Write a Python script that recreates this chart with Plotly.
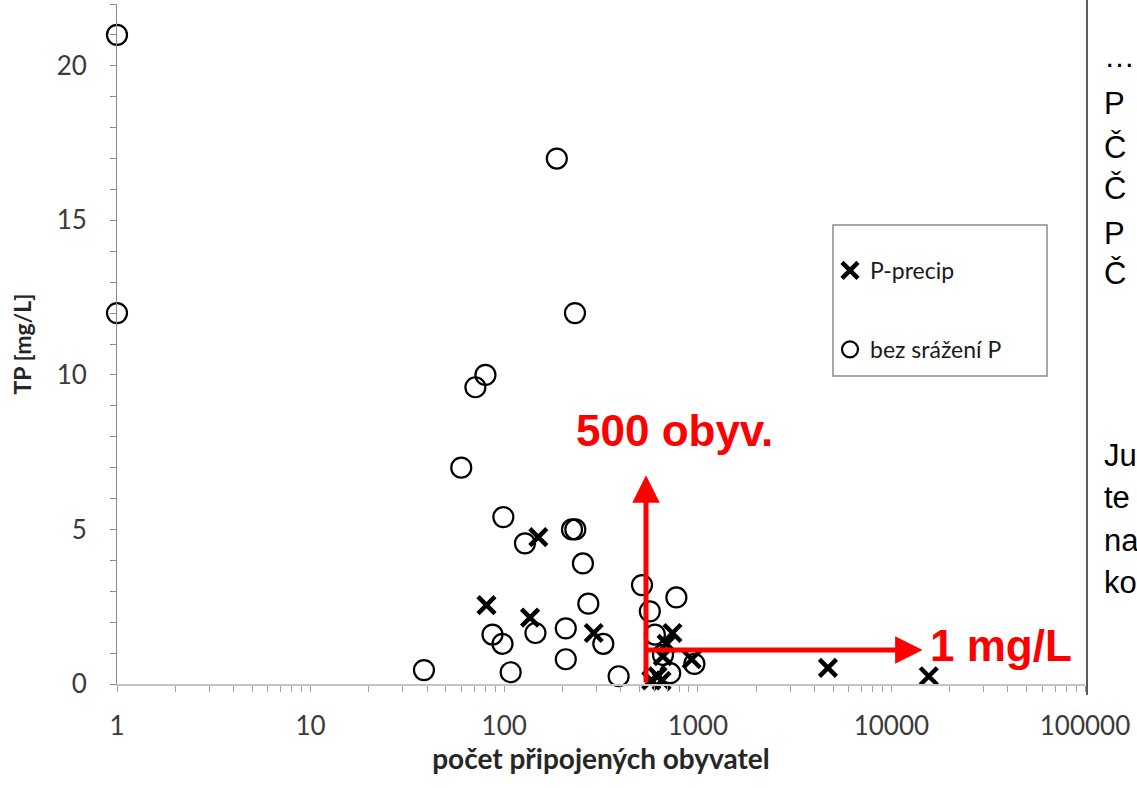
import math
import plotly.graph_objects as go

# ---- data ----
bez_x = [1, 1, 187, 232, 80, 71, 60, 99, 128, 224, 233, 255, 515, 775, 272, 565,
         208, 87, 145, 98, 325, 600, 208, 38.5, 108, 390, 720, 960, 661]
bez_y = [21.0, 12.0, 17.0, 12.0, 10.0, 9.6, 7.0, 5.4, 4.55, 5.0, 5.0, 3.9, 3.2, 2.8, 2.6, 2.35,
         1.8, 1.6, 1.65, 1.3, 1.3, 1.6, 0.8, 0.45, 0.38, 0.25, 0.35, 0.65, 0.94]

pp_x = [150, 81, 136, 290, 740, 690, 660, 930, 620, 575, 650, 4700, 15600]
pp_y = [4.75, 2.55, 2.15, 1.65, 1.65, 1.3, 0.9, 0.8, 0.25, 0.12, 0.1, 0.52, 0.25]

x_tickvals = [1, 10, 100, 1000, 10000, 100000]
x_ticktext = ["1", "10", "100", "1000", "10000", "100000"]
y_tickvals = [0, 5, 10, 15, 20]

limit_pop = 540      # "500 obyv." marker line
limit_tp = 1.1       # "1 mg/L" marker line
arrow_top = 6.75
arrow_right = 14500

side_lines = ["…", "P", "Č", "Č", "P", "Č", "Ju", "te", "na", "ko"]
side_y_px = [57, 103, 147, 188, 233, 273, 455, 497, 540, 582]

# ---- layout geometry ----
W, H = 1137, 788
L, R, T, B = 117, 52, 4, 104
PW, PH = W - L - R, H - T - B


def px_x(px):
    return (px - L) / PW


def px_y(py):
    return (H - B - py) / PH


label_font = "Lato, 'Open Sans', sans-serif"
arial = "'Liberation Sans', Arial, sans-serif"

fig = go.Figure()
fig.add_trace(go.Scatter(
    x=pp_x, y=pp_y, mode="markers", name="P-precip",
    legendgroup="a",
    marker=dict(symbol="x-thin", size=17, color="black",
                line=dict(width=4.5, color="black")),
    cliponaxis=False,
))
fig.add_trace(go.Scatter(
    x=bez_x, y=bez_y, mode="markers", name="bez srážení P",
    legendgroup="b",
    marker=dict(symbol="circle-open", size=20, color="black",
                line=dict(width=2.2, color="black")),
    cliponaxis=False,
))

fig.update_xaxes(
    type="log", range=[0, 5],
    tickvals=x_tickvals, ticktext=x_ticktext,
    showgrid=False, zeroline=False,
    showline=True, linecolor="#c4c4c4", linewidth=2,
    ticks="outside", ticklen=6, tickcolor="#a0a0a0", tickwidth=1,
    minor=dict(ticks="outside", ticklen=6, tickcolor="#a0a0a0", dtick="D1", showgrid=False),
    tickfont=dict(family=label_font, size=26, color="#3a3a3a"),
    ticklabelstandoff=12,
    title=dict(text="<b>počet připojených obyvatel</b>",
               font=dict(family=label_font, size=28, color="#262626"), standoff=4),
)
fig.update_yaxes(
    range=[0, 22],
    tickvals=y_tickvals,
    showgrid=False, zeroline=False,
    showline=True, linecolor="#8a8a8a", linewidth=1,
    ticks="outside", ticklen=6, tickcolor="#8a8a8a", tickwidth=1,
    minor=dict(ticks="outside", ticklen=6, tickcolor="#8a8a8a", dtick=1, showgrid=False),
    tickfont=dict(family=label_font, size=26, color="#3a3a3a"),
    ticklabelstandoff=18,
    title=dict(text="<b>TP [mg/L]</b>",
               font=dict(family=label_font, size=23, color="#262626"), standoff=18),
)

# legend box drawn as shape
fig.add_shape(type="rect", xref="paper", yref="paper",
              x0=px_x(833), x1=px_x(1047), y0=px_y(376), y1=px_y(225),
              line=dict(color="#8c8c8c", width=1.5), fillcolor="white", layer="below")

# black vertical slide line
fig.add_shape(type="line", xref="paper", yref="paper",
              x0=px_x(1087), x1=px_x(1087), y0=px_y(695), y1=px_y(0),
              line=dict(color="#222222", width=1.5))

anns = []
# red arrows
anns.append(dict(x=math.log10(limit_pop), y=arrow_top, xref="x", yref="y",
                 ax=math.log10(limit_pop), ay=0, axref="x", ayref="y",
                 showarrow=True, arrowhead=2, arrowsize=1.1, arrowwidth=5,
                 arrowcolor="#ff0000", text=""))
anns.append(dict(x=math.log10(arrow_right), y=limit_tp, xref="x", yref="y",
                 ax=math.log10(limit_pop), ay=limit_tp, axref="x", ayref="y",
                 showarrow=True, arrowhead=2, arrowsize=1.1, arrowwidth=5,
                 arrowcolor="#ff0000", text=""))
anns.append(dict(x=px_x(674), y=px_y(430), xref="paper", yref="paper",
                 text="<b>500 obyv.</b>", showarrow=False,
                 font=dict(family=arial, size=44, color="#ff0000"),
                 xanchor="center", yanchor="middle"))
anns.append(dict(x=px_x(928), y=px_y(645), xref="paper", yref="paper",
                 text="<b>1 mg/L</b>", showarrow=False,
                 font=dict(family=arial, size=44, color="#ff0000"),
                 xanchor="left", yanchor="middle"))
for t, py in zip(side_lines, side_y_px):
    anns.append(dict(x=px_x(1102), y=px_y(py), xref="paper", yref="paper",
                     text=t, showarrow=False,
                     font=dict(family=arial, size=31, color="black"),
                     xanchor="left", yanchor="middle"))

fig.update_layout(
    width=W, height=H,
    margin=dict(l=L, r=R, t=T, b=B),
    paper_bgcolor="white", plot_bgcolor="white",
    annotations=anns,
    showlegend=True,
    legend=dict(x=px_x(830), y=px_y(249), xanchor="left", yanchor="top",
                bgcolor="rgba(0,0,0,0)", borderwidth=0,
                font=dict(family=label_font, size=23, color="#1a1a1a"),
                tracegroupgap=46, traceorder="grouped", itemsizing="trace"),
)

fig.write_html("out.html", config={"displayModeBar": False},
               post_script="document.body.style.margin='0';document.body.style.overflow='hidden';")
